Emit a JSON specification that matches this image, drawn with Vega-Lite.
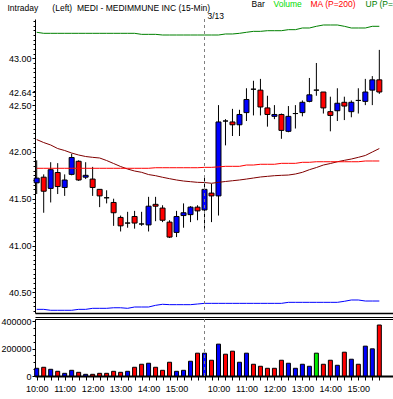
{
  "$schema": "https://vega.github.io/schema/vega-lite/v6.json",
  "padding": 0,
  "background": "white",
  "title": {"text": "Intraday\u00a0\u00a0\u00a0\u00a0\u00a0\u00a0(Left)\u00a0\u00a0MEDI - MEDIMMUNE INC\u00a0(15-Min)", "anchor": "start", "frame": "bounds", "dx": 7, "offset": -12, "font": "Liberation Sans", "fontSize": 8.5, "fontWeight": "normal", "color": "black"},
  "datasets": {
    "bars": [
      {"t": "03-12 10:00", "open": 41.67, "high": 41.91, "low": 41.55, "close": 41.72, "volume": 56400, "vdir": "up", "ma200": 41.825, "ma20": 42.132, "up": 43.278, "dn": 40.318},
      {"t": "03-12 10:15", "open": 41.73, "high": 41.76, "low": 41.35, "close": 41.58, "volume": 63800, "vdir": "down", "ma200": 41.825, "ma20": 42.100, "up": 43.267, "dn": 40.318},
      {"t": "03-12 10:30", "open": 41.61, "high": 41.89, "low": 41.46, "close": 41.81, "volume": 49100, "vdir": "up", "ma200": 41.825, "ma20": 42.074, "up": 43.267, "dn": 40.308},
      {"t": "03-12 10:45", "open": 41.78, "high": 41.88, "low": 41.55, "close": 41.63, "volume": 34400, "vdir": "down", "ma200": 41.825, "ma20": 42.036, "up": 43.267, "dn": 40.308},
      {"t": "03-12 11:00", "open": 41.62, "high": 41.76, "low": 41.53, "close": 41.70, "volume": 19600, "vdir": "up", "ma200": 41.825, "ma20": 42.015, "up": 43.267, "dn": 40.308},
      {"t": "03-12 11:15", "open": 41.76, "high": 41.98, "low": 41.75, "close": 41.94, "volume": 41700, "vdir": "up", "ma200": 41.825, "ma20": 41.988, "up": 43.267, "dn": 40.308},
      {"t": "03-12 11:30", "open": 41.90, "high": 41.91, "low": 41.69, "close": 41.70, "volume": 27000, "vdir": "down", "ma200": 41.825, "ma20": 41.967, "up": 43.267, "dn": 40.318},
      {"t": "03-12 11:45", "open": 41.73, "high": 41.89, "low": 41.71, "close": 41.75, "volume": 12300, "vdir": "up", "ma200": 41.825, "ma20": 41.951, "up": 43.267, "dn": 40.318},
      {"t": "03-12 12:00", "open": 41.71, "high": 41.84, "low": 41.53, "close": 41.62, "volume": 12300, "vdir": "down", "ma200": 41.825, "ma20": 41.942, "up": 43.267, "dn": 40.329},
      {"t": "03-12 12:15", "open": 41.60, "high": 41.60, "low": 41.41, "close": 41.53, "volume": 19600, "vdir": "down", "ma200": 41.825, "ma20": 41.935, "up": 43.267, "dn": 40.329},
      {"t": "03-12 12:30", "open": 41.51, "high": 41.59, "low": 41.45, "close": 41.51, "volume": 19600, "vdir": "down", "ma200": 41.825, "ma20": 41.908, "up": 43.267, "dn": 40.329},
      {"t": "03-12 12:45", "open": 41.46, "high": 41.50, "low": 41.21, "close": 41.35, "volume": 34400, "vdir": "down", "ma200": 41.825, "ma20": 41.876, "up": 43.267, "dn": 40.335},
      {"t": "03-12 13:00", "open": 41.30, "high": 41.32, "low": 41.15, "close": 41.21, "volume": 27000, "vdir": "down", "ma200": 41.825, "ma20": 41.844, "up": 43.267, "dn": 40.335},
      {"t": "03-12 13:15", "open": 41.24, "high": 41.36, "low": 41.19, "close": 41.24, "volume": 34400, "vdir": "up", "ma200": 41.825, "ma20": 41.817, "up": 43.267, "dn": 40.329},
      {"t": "03-12 13:30", "open": 41.31, "high": 41.37, "low": 41.18, "close": 41.24, "volume": 63800, "vdir": "down", "ma200": 41.825, "ma20": 41.796, "up": 43.267, "dn": 40.343},
      {"t": "03-12 13:45", "open": 41.23, "high": 41.36, "low": 41.21, "close": 41.23, "volume": 85900, "vdir": "down", "ma200": 41.825, "ma20": 41.782, "up": 43.256, "dn": 40.343},
      {"t": "03-12 14:00", "open": 41.22, "high": 41.52, "low": 41.15, "close": 41.42, "volume": 93300, "vdir": "up", "ma200": 41.825, "ma20": 41.758, "up": 43.256, "dn": 40.343},
      {"t": "03-12 14:15", "open": 41.44, "high": 41.52, "low": 41.26, "close": 41.42, "volume": 63800, "vdir": "down", "ma200": 41.831, "ma20": 41.746, "up": 43.256, "dn": 40.361},
      {"t": "03-12 14:30", "open": 41.40, "high": 41.43, "low": 41.25, "close": 41.27, "volume": 41700, "vdir": "down", "ma200": 41.831, "ma20": 41.729, "up": 43.249, "dn": 40.372},
      {"t": "03-12 14:45", "open": 41.25, "high": 41.27, "low": 41.08, "close": 41.09, "volume": 100600, "vdir": "down", "ma200": 41.831, "ma20": 41.714, "up": 43.249, "dn": 40.368},
      {"t": "03-12 15:00", "open": 41.14, "high": 41.37, "low": 41.09, "close": 41.31, "volume": 34400, "vdir": "up", "ma200": 41.831, "ma20": 41.700, "up": 43.249, "dn": 40.368},
      {"t": "03-12 15:15", "open": 41.32, "high": 41.45, "low": 41.19, "close": 41.35, "volume": 41700, "vdir": "up", "ma200": 41.831, "ma20": 41.689, "up": 43.249, "dn": 40.368},
      {"t": "03-12 15:30", "open": 41.33, "high": 41.42, "low": 41.25, "close": 41.41, "volume": 108000, "vdir": "up", "ma200": 41.831, "ma20": 41.682, "up": 43.249, "dn": 40.368},
      {"t": "03-12 15:45", "open": 41.41, "high": 41.43, "low": 41.27, "close": 41.37, "volume": 166900, "vdir": "down", "ma200": 41.831, "ma20": 41.675, "up": 43.249, "dn": 40.375},
      {"t": "03-13 09:30", "open": 41.38, "high": 41.73, "low": 41.18, "close": 41.60, "volume": 166900, "vdir": "up", "ma200": 41.835, "ma20": 41.673, "up": 43.249, "dn": 40.382},
      {"t": "03-13 09:45", "open": 41.56, "high": 41.66, "low": 41.25, "close": 41.53, "volume": 115300, "vdir": "down", "ma200": 41.835, "ma20": 41.665, "up": 43.249, "dn": 40.382},
      {"t": "03-13 10:00", "open": 41.53, "high": 42.50, "low": 41.32, "close": 42.32, "volume": 233100, "vdir": "up", "ma200": 41.840, "ma20": 41.675, "up": 43.249, "dn": 40.382},
      {"t": "03-13 10:15", "open": 42.33, "high": 42.35, "low": 42.07, "close": 42.33, "volume": 159500, "vdir": "down", "ma200": 41.846, "ma20": 41.684, "up": 43.260, "dn": 40.382},
      {"t": "03-13 10:30", "open": 42.32, "high": 42.46, "low": 42.17, "close": 42.29, "volume": 181600, "vdir": "down", "ma200": 41.846, "ma20": 41.692, "up": 43.260, "dn": 40.382},
      {"t": "03-13 10:45", "open": 42.29, "high": 42.45, "low": 42.17, "close": 42.40, "volume": 100600, "vdir": "up", "ma200": 41.846, "ma20": 41.700, "up": 43.267, "dn": 40.382},
      {"t": "03-13 11:00", "open": 42.42, "high": 42.68, "low": 42.33, "close": 42.56, "volume": 166900, "vdir": "up", "ma200": 41.860, "ma20": 41.710, "up": 43.278, "dn": 40.382},
      {"t": "03-13 11:15", "open": 42.67, "high": 42.76, "low": 42.39, "close": 42.67, "volume": 85900, "vdir": "down", "ma200": 41.860, "ma20": 41.721, "up": 43.288, "dn": 40.382},
      {"t": "03-13 11:30", "open": 42.66, "high": 42.78, "low": 42.39, "close": 42.48, "volume": 71200, "vdir": "down", "ma200": 41.868, "ma20": 41.732, "up": 43.288, "dn": 40.382},
      {"t": "03-13 11:45", "open": 42.47, "high": 42.60, "low": 42.27, "close": 42.40, "volume": 56400, "vdir": "down", "ma200": 41.868, "ma20": 41.739, "up": 43.295, "dn": 40.382},
      {"t": "03-13 12:00", "open": 42.38, "high": 42.50, "low": 42.35, "close": 42.40, "volume": 56400, "vdir": "down", "ma200": 41.868, "ma20": 41.746, "up": 43.295, "dn": 40.382},
      {"t": "03-13 12:15", "open": 42.40, "high": 42.41, "low": 42.14, "close": 42.23, "volume": 115300, "vdir": "down", "ma200": 41.878, "ma20": 41.750, "up": 43.295, "dn": 40.382},
      {"t": "03-13 12:30", "open": 42.22, "high": 42.49, "low": 42.21, "close": 42.38, "volume": 93300, "vdir": "up", "ma200": 41.878, "ma20": 41.753, "up": 43.306, "dn": 40.393},
      {"t": "03-13 12:45", "open": 42.41, "high": 42.50, "low": 42.25, "close": 42.41, "volume": 56400, "vdir": "up", "ma200": 41.878, "ma20": 41.764, "up": 43.306, "dn": 40.393},
      {"t": "03-13 13:00", "open": 42.42, "high": 42.55, "low": 42.38, "close": 42.53, "volume": 85900, "vdir": "up", "ma200": 41.889, "ma20": 41.782, "up": 43.324, "dn": 40.393},
      {"t": "03-13 13:15", "open": 42.54, "high": 42.79, "low": 42.53, "close": 42.61, "volume": 71200, "vdir": "up", "ma200": 41.889, "ma20": 41.810, "up": 43.324, "dn": 40.393},
      {"t": "03-13 13:30", "open": 42.66, "high": 42.95, "low": 42.60, "close": 42.66, "volume": 166900, "vdir": "unch", "ma200": 41.895, "ma20": 41.833, "up": 43.342, "dn": 40.393},
      {"t": "03-13 13:45", "open": 42.64, "high": 42.64, "low": 42.41, "close": 42.47, "volume": 85900, "vdir": "down", "ma200": 41.895, "ma20": 41.860, "up": 43.356, "dn": 40.393},
      {"t": "03-13 14:00", "open": 42.43, "high": 42.59, "low": 42.22, "close": 42.39, "volume": 115300, "vdir": "down", "ma200": 41.895, "ma20": 41.876, "up": 43.356, "dn": 40.393},
      {"t": "03-13 14:15", "open": 42.44, "high": 42.68, "low": 42.33, "close": 42.52, "volume": 78500, "vdir": "up", "ma200": 41.895, "ma20": 41.895, "up": 43.356, "dn": 40.393},
      {"t": "03-13 14:30", "open": 42.53, "high": 42.59, "low": 42.34, "close": 42.49, "volume": 174200, "vdir": "down", "ma200": 41.895, "ma20": 41.910, "up": 43.342, "dn": 40.404},
      {"t": "03-13 14:45", "open": 42.43, "high": 42.55, "low": 42.37, "close": 42.53, "volume": 122700, "vdir": "up", "ma200": 41.895, "ma20": 41.924, "up": 43.324, "dn": 40.418},
      {"t": "03-13 15:00", "open": 42.55, "high": 42.68, "low": 42.41, "close": 42.55, "volume": 85900, "vdir": "down", "ma200": 41.895, "ma20": 41.942, "up": 43.324, "dn": 40.418},
      {"t": "03-13 15:15", "open": 42.54, "high": 42.78, "low": 42.50, "close": 42.64, "volume": 218400, "vdir": "up", "ma200": 41.903, "ma20": 41.962, "up": 43.324, "dn": 40.407},
      {"t": "03-13 15:30", "open": 42.66, "high": 42.81, "low": 42.50, "close": 42.77, "volume": 198800, "vdir": "up", "ma200": 41.903, "ma20": 41.999, "up": 43.342, "dn": 40.407},
      {"t": "03-13 15:45", "open": 42.77, "high": 43.09, "low": 42.62, "close": 42.64, "volume": 373000, "vdir": "down", "ma200": 41.903, "ma20": 42.036, "up": 43.342, "dn": 40.407}
    ],
    "days": [{"t": "03-13 09:30", "label": "3/13"}]
  },
  "spacing": 6,
  "bounds": "flush",
  "resolve": {"scale": {"color": "independent"}, "legend": {"color": "independent"}},
  "vconcat": [
    {
      "width": 360,
      "height": 294,
      "layer": [
        {
          "data": {"name": "bars"},
          "mark": {"type": "rule", "color": "black", "strokeWidth": 1},
          "encoding": {
            "x": {"field": "t", "type": "ordinal", "title": null,
              "scale": {"type": "point", "padding": 0.243, "domain": ["03-12 10:00","03-12 10:15","03-12 10:30","03-12 10:45","03-12 11:00","03-12 11:15","03-12 11:30","03-12 11:45","03-12 12:00","03-12 12:15","03-12 12:30","03-12 12:45","03-12 13:00","03-12 13:15","03-12 13:30","03-12 13:45","03-12 14:00","03-12 14:15","03-12 14:30","03-12 14:45","03-12 15:00","03-12 15:15","03-12 15:30","03-12 15:45","03-13 09:30","03-13 09:45","03-13 10:00","03-13 10:15","03-13 10:30","03-13 10:45","03-13 11:00","03-13 11:15","03-13 11:30","03-13 11:45","03-13 12:00","03-13 12:15","03-13 12:30","03-13 12:45","03-13 13:00","03-13 13:15","03-13 13:30","03-13 13:45","03-13 14:00","03-13 14:15","03-13 14:30","03-13 14:45","03-13 15:00","03-13 15:15","03-13 15:30","03-13 15:45","03-13 16:00","03-13 16:15"]},
              "axis": {"orient": "bottom", "title": null, "labels": false, "ticks": false, "domain": true, "domainColor": "black", "domainWidth": 1.5, "minExtent": 0, "maxExtent": 0}},
            "y": {"field": "low", "type": "quantitative", "title": null,
              "scale": {"domain": [40.279, 43.42], "nice": false, "zero": false},
              "axis": {"orient": "left", "values": [40.5, 41, 41.5, 42, 42.5, 42.64, 43], "format": ".2f", "labelOverlap": false, "tickSize": 3, "labelPadding": 1, "domainColor": "black", "minExtent": 33, "maxExtent": 33, "grid": false}},
            "y2": {"field": "high"}
          }
        },
        {
          "data": {"name": "bars"},
          "mark": {"type": "bar", "width": 5, "stroke": "black", "strokeWidth": 1},
          "encoding": {
            "x": {"field": "t", "type": "ordinal", "title": null},
            "y": {"field": "open", "type": "quantitative", "title": null,
              "axis": {"orient": "left", "labels": false, "domain": false, "tickSize": 2, "minExtent": 33, "maxExtent": 33, "grid": false,
                "values": [40.3,40.35,40.4,40.45,40.5,40.55,40.6,40.65,40.7,40.75,40.8,40.85,40.9,40.95,41,41.05,41.1,41.15,41.2,41.25,41.3,41.35,41.4,41.45,41.5,41.55,41.6,41.65,41.7,41.75,41.8,41.85,41.9,41.95,42,42.05,42.1,42.15,42.2,42.25,42.3,42.35,42.4,42.45,42.5,42.55,42.6,42.65,42.7,42.75,42.8,42.85,42.9,42.95,43,43.05,43.1,43.15,43.2,43.25,43.3,43.35,43.4]}},
            "y2": {"field": "close"},
            "fill": {"condition": [{"test": "datum.close > datum.open", "value": "#0000ff"}, {"test": "datum.close < datum.open", "value": "#ff0000"}], "value": "#000000"}
          }
        },
        {
          "data": {"name": "bars"},
          "mark": {"type": "line", "strokeWidth": 1},
          "encoding": {
            "x": {"field": "t", "type": "ordinal", "title": null},
            "y": {"field": "up", "type": "quantitative", "axis": null},
            "color": {"datum": "UP (P=20)", "type": "nominal",
              "scale": {"domain": ["Bar", "Volume", "MA (P=200)", "UP (P=20)", "MA (P=20)", "DN (P=20)"], "range": ["#000000", "#00dd00", "#ff0000", "#008000", "#800000", "#0000ff"]},
              "legend": {"orient": "none", "legendX": 208, "legendY": -19, "direction": "horizontal", "title": null,
                "values": ["Bar", "Volume", "MA (P=200)", "UP (P=20)"],
                "symbolSize": 0, "symbolOpacity": 0, "symbolStrokeWidth": 0, "labelOffset": 0, "columnPadding": -3,
                "labelFont": "Liberation Sans", "labelFontSize": 8.5, "labelLimit": 300,
                "encode": {"labels": {"update": {"fill": {"signal": "datum.value === 'Volume' ? '#00dd00' : datum.value === 'MA (P=200)' ? '#ff0000' : datum.value === 'UP (P=20)' ? '#008000' : '#000000'"}}}}}}
          }
        },
        {
          "data": {"name": "bars"},
          "mark": {"type": "line", "strokeWidth": 1},
          "encoding": {
            "x": {"field": "t", "type": "ordinal", "title": null},
            "y": {"field": "dn", "type": "quantitative", "axis": null},
            "color": {"datum": "DN (P=20)", "type": "nominal"}
          }
        },
        {
          "data": {"name": "bars"},
          "mark": {"type": "line", "strokeWidth": 1},
          "encoding": {
            "x": {"field": "t", "type": "ordinal", "title": null},
            "y": {"field": "ma20", "type": "quantitative", "axis": null},
            "color": {"datum": "MA (P=20)", "type": "nominal"}
          }
        },
        {
          "data": {"name": "bars"},
          "mark": {"type": "line", "strokeWidth": 1},
          "encoding": {
            "x": {"field": "t", "type": "ordinal", "title": null},
            "y": {"field": "ma200", "type": "quantitative", "axis": null},
            "color": {"datum": "MA (P=200)", "type": "nominal"}
          }
        },
        {
          "data": {"name": "days"},
          "mark": {"type": "rule", "color": "#808080", "strokeWidth": 1, "strokeDash": [3, 3]},
          "encoding": {
            "x": {"field": "t", "type": "ordinal", "title": null}
          }
        },
        {
          "data": {"name": "days"},
          "mark": {"type": "text", "align": "left", "baseline": "bottom", "dx": 3, "dy": 2, "font": "Liberation Sans", "fontSize": 8.5, "color": "black"},
          "encoding": {
            "x": {"field": "t", "type": "ordinal", "title": null},
            "y": {"datum": 43.42, "type": "quantitative", "axis": null},
            "text": {"field": "label"}
          }
        }
      ],
      "resolve": {"axis": {"y": "independent"}}
    },
    {
      "width": 360,
      "height": 57,
      "view": {"stroke": "black", "strokeWidth": 1},
      "layer": [
        {
          "data": {"name": "bars"},
          "mark": {"type": "bar", "width": 4, "stroke": "black", "strokeWidth": 1},
          "encoding": {
            "x": {"field": "t", "type": "ordinal", "title": null,
              "scale": {"type": "point", "padding": 0.243, "domain": ["03-12 10:00","03-12 10:15","03-12 10:30","03-12 10:45","03-12 11:00","03-12 11:15","03-12 11:30","03-12 11:45","03-12 12:00","03-12 12:15","03-12 12:30","03-12 12:45","03-12 13:00","03-12 13:15","03-12 13:30","03-12 13:45","03-12 14:00","03-12 14:15","03-12 14:30","03-12 14:45","03-12 15:00","03-12 15:15","03-12 15:30","03-12 15:45","03-13 09:30","03-13 09:45","03-13 10:00","03-13 10:15","03-13 10:30","03-13 10:45","03-13 11:00","03-13 11:15","03-13 11:30","03-13 11:45","03-13 12:00","03-13 12:15","03-13 12:30","03-13 12:45","03-13 13:00","03-13 13:15","03-13 13:30","03-13 13:45","03-13 14:00","03-13 14:15","03-13 14:30","03-13 14:45","03-13 15:00","03-13 15:15","03-13 15:30","03-13 15:45","03-13 16:00","03-13 16:15"]},
              "axis": {"orient": "bottom", "title": null, "values": ["03-12 10:00","03-12 10:15","03-12 10:30","03-12 10:45","03-12 11:00","03-12 11:15","03-12 11:30","03-12 11:45","03-12 12:00","03-12 12:15","03-12 12:30","03-12 12:45","03-12 13:00","03-12 13:15","03-12 13:30","03-12 13:45","03-12 14:00","03-12 14:15","03-12 14:30","03-12 14:45","03-12 15:00","03-12 15:15","03-12 15:30","03-12 15:45","03-13 09:30","03-13 09:45","03-13 10:00","03-13 10:15","03-13 10:30","03-13 10:45","03-13 11:00","03-13 11:15","03-13 11:30","03-13 11:45","03-13 12:00","03-13 12:15","03-13 12:30","03-13 12:45","03-13 13:00","03-13 13:15","03-13 13:30","03-13 13:45","03-13 14:00","03-13 14:15","03-13 14:30","03-13 14:45","03-13 15:00","03-13 15:15","03-13 15:30","03-13 15:45"],
                "labelExpr": "substring(datum.label, 9, 11) === '00' ? substring(datum.label, 6) : ''", "labelAngle": 0, "labelOverlap": false, "labelPadding": 4, "tickSize": 4, "domainColor": "black", "domainWidth": 2, "tickColor": "black"}},
            "y": {"field": "volume", "type": "quantitative", "title": null,
              "scale": {"domain": [0, 417000], "nice": false},
              "axis": {"orient": "left", "values": [0, 200000, 400000], "format": "d", "labelOverlap": false, "tickSize": 3, "labelPadding": 1, "domainColor": "black", "minExtent": 33, "maxExtent": 33, "grid": false}},
            "fill": {"field": "vdir", "type": "nominal", "scale": {"domain": ["up", "down", "unch"], "range": ["#0000ff", "#ff0000", "#00ee00"]}, "legend": null}
          }
        },
        {
          "data": {"name": "bars"},
          "mark": {"type": "point", "opacity": 0},
          "encoding": {
            "x": {"field": "t", "type": "ordinal", "title": null, "axis": {"orient": "top", "title": null, "labels": false, "ticks": false, "domain": true, "domainColor": "black", "offset": 2, "minExtent": 0, "maxExtent": 0}},
            "y": {"field": "volume", "type": "quantitative", "title": null,
              "axis": {"orient": "left", "labels": false, "domain": false, "tickSize": 2, "minExtent": 33, "maxExtent": 33, "grid": false, "values": [50000, 100000, 150000, 250000, 300000, 350000]}}
          }
        },
        {
          "data": {"name": "days"},
          "mark": {"type": "rule", "color": "#808080", "strokeWidth": 1, "strokeDash": [3, 3]},
          "encoding": {
            "x": {"field": "t", "type": "ordinal", "title": null, "axis": null}
          }
        }
      ],
      "resolve": {"axis": {"x": "independent", "y": "independent"}}
    }
  ],
  "config": {
    "font": "Liberation Sans",
    "view": {"stroke": null},
    "axis": {"labelFont": "Liberation Sans", "labelFontSize": 9, "labelColor": "black", "tickColor": "black", "domainColor": "black", "grid": false}
  }
}
